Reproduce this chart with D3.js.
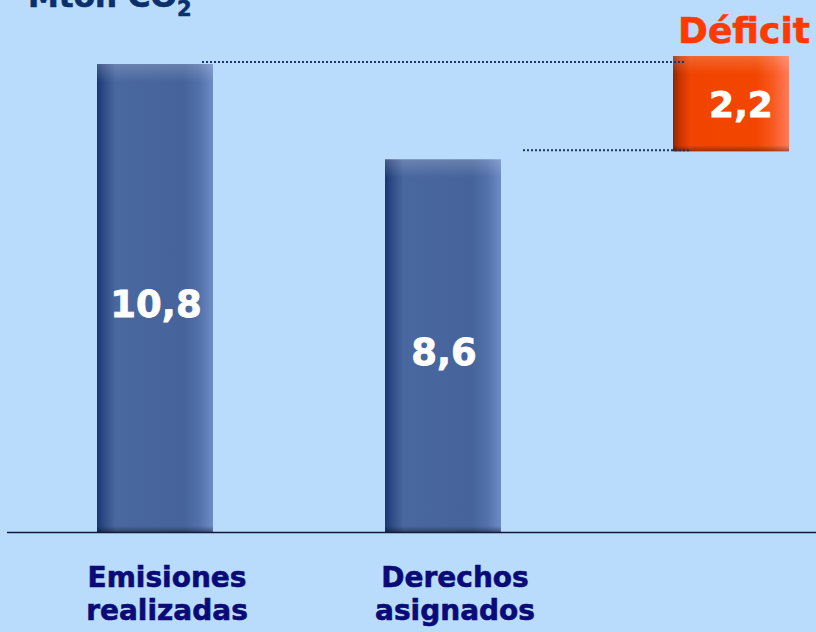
<!DOCTYPE html>
<html>
<head>
<meta charset="utf-8">
<script src="https://cdn.jsdelivr.net/npm/d3@7"></script>
<style>
  html, body { margin: 0; padding: 0; background: #b9dcfc; }
  svg { display: block; }
  text { font-family: "DejaVu Sans", Verdana, sans-serif; font-weight: bold; }
</style>
</head>
<body>
<svg id="chart" width="816" height="632"></svg>
<script>
// Emissions vs. allocated allowances (Mton CO2)
const categories = ["Emisiones realizadas", "Derechos asignados", "Déficit"];
const categoryLines = [["Emisiones", "realizadas"], ["Derechos", "asignados"], []];
const emitted = 10.8;
const allocated = 8.6;
const deficit = 2.2;
const barValues = [emitted, allocated];
const valueLabels = ["10,8", "8,6", "2,2"];

const W = 816, H = 632;
const svg = d3.select("#chart");

const x = d3.scalePoint().domain(categories).range([155, 731]);
const y = d3.scaleLinear().domain([0, emitted]).range([532, 64]);
const barW = 116;

const defs = svg.append("defs");
function hGrad(id, stops) {
  const g = defs.append("linearGradient").attr("id", id)
    .attr("x1", 0).attr("x2", 1).attr("y1", 0).attr("y2", 0);
  stops.forEach(([o, c]) => g.append("stop").attr("offset", o).attr("stop-color", c));
}
hGrad("blueH", [[0, "#1b3570"], [0.06, "#2f4c86"], [0.16, "#4a68a0"], [0.75, "#46649b"], [0.88, "#5271aa"], [1, "#6d8bc4"]]);
hGrad("redH", [[0, "#8e2400"], [0.06, "#c93500"], [0.15, "#f04400"], [0.72, "#f24600"], [0.86, "#f75a20"], [1, "#ff7a5c"]]);

// soft top highlight and bottom shadow on the bars
const topFade = defs.append("linearGradient").attr("id", "topFade")
  .attr("x1", 0).attr("x2", 0).attr("y1", 0).attr("y2", 1);
topFade.append("stop").attr("offset", 0).attr("stop-color", "#ffffff").attr("stop-opacity", 0.18);
topFade.append("stop").attr("offset", 1).attr("stop-color", "#ffffff").attr("stop-opacity", 0);
const botFade = defs.append("linearGradient").attr("id", "botFade")
  .attr("x1", 0).attr("x2", 0).attr("y1", 0).attr("y2", 1);
botFade.append("stop").attr("offset", 0).attr("stop-color", "#000000").attr("stop-opacity", 0);
botFade.append("stop").attr("offset", 1).attr("stop-color", "#000000").attr("stop-opacity", 0.35);

function drawBar(cx, y0, y1, fill) {
  const g = svg.append("g");
  const h = y1 - y0;
  g.append("rect").attr("x", cx - barW / 2).attr("y", y0).attr("width", barW).attr("height", h)
    .attr("fill", fill);
  g.append("rect").attr("x", cx - barW / 2).attr("y", y0).attr("width", barW).attr("height", Math.min(18, h / 4))
    .attr("fill", "url(#topFade)");
  g.append("rect").attr("x", cx - barW / 2).attr("y", y1 - 6).attr("width", barW).attr("height", 6)
    .attr("fill", "url(#botFade)");
}

// Main bars
barValues.forEach((v, i) => {
  drawBar(x(categories[i]), y(v), y(0), "url(#blueH)");
});

// Deficit bar spans the gap between allocated and emitted, set slightly higher
const lift = 8;
const dTop = y(allocated + deficit) - lift;
const dBot = y(allocated) - lift;
drawBar(x(categories[2]), dTop, dBot, "url(#redH)");

// Dotted guide lines
svg.append("line")
  .attr("x1", x(categories[0]) + 47).attr("x2", x(categories[2]) - 45)
  .attr("y1", y(emitted) - 2).attr("y2", y(emitted) - 2)
  .attr("stroke", "#1c3468").attr("stroke-width", 2).attr("stroke-dasharray", "2,2");
svg.append("line")
  .attr("x1", x(categories[1]) + 80).attr("x2", x(categories[2]) - 41)
  .attr("y1", dBot - 1).attr("y2", dBot - 1)
  .attr("stroke", "#1c3468").attr("stroke-width", 2).attr("stroke-dasharray", "2,2");

// Baseline
svg.append("line").attr("x1", 7).attr("x2", W).attr("y1", y(0) + 0.5).attr("y2", y(0) + 0.5)
  .attr("stroke", "#15193a").attr("stroke-width", 1.5);

// Value labels
barValues.forEach((v, i) => {
  svg.append("text").attr("x", x(categories[i]) + 1).attr("y", (y(v) + y(0)) / 2 + 19)
    .attr("text-anchor", "middle").attr("fill", "#ffffff").attr("font-size", 37)
    .attr("stroke", "#ffffff").attr("stroke-width", 0.8)
    .text(valueLabels[i]);
});
svg.append("text").attr("x", x(categories[2]) + 10).attr("y", (dTop + dBot) / 2 + 13)
  .attr("text-anchor", "middle").attr("fill", "#ffffff").attr("font-size", 36)
  .attr("stroke", "#ffffff").attr("stroke-width", 0.8)
  .text(valueLabels[2]);

// Deficit heading
svg.append("text").attr("x", 744).attr("y", 43).attr("text-anchor", "middle")
  .attr("fill", "#ff3a00").attr("font-size", 36)
  .attr("stroke", "#ff3a00").attr("stroke-width", 0.6).text(categories[2]);

// Category labels
categoryLines.forEach((lines, i) => {
  lines.forEach((ln, j) => {
    svg.append("text").attr("x", x(categories[i]) + 12).attr("y", 587 + j * 33)
      .attr("text-anchor", "middle").attr("fill", "#0a0a78").attr("font-size", 28)
      .attr("stroke", "#0a0a78").attr("stroke-width", 0.6).text(ln);
  });
});

// Unit title
const title = svg.append("text").attr("x", 28).attr("y", 7).attr("fill", "#0b2f6b").attr("font-size", 31)
  .attr("stroke", "#0b2f6b").attr("stroke-width", 0.6);
title.append("tspan").text("Mton CO");
title.append("tspan").attr("font-size", 21).attr("dy", 9).text("2");
</script>
</body>
</html>
